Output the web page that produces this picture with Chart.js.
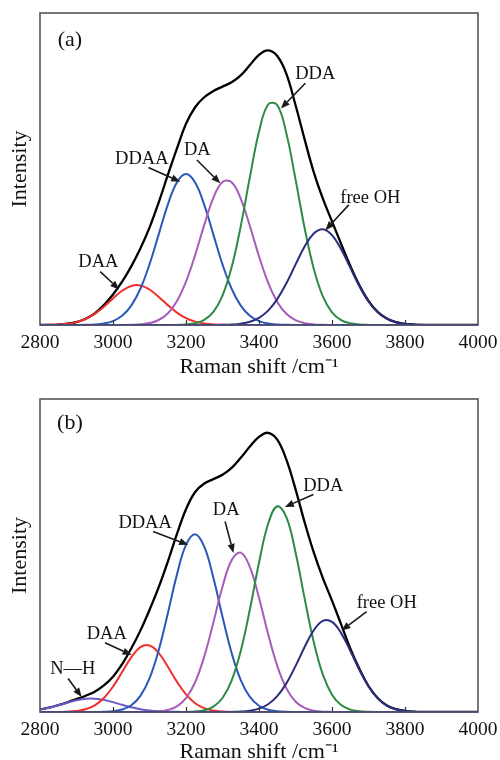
<!DOCTYPE html>
<html><head><meta charset="utf-8">
<script src="https://cdn.jsdelivr.net/npm/chart.js@4/dist/chart.umd.min.js"></script>
<style>
html,body{margin:0;padding:0;background:#fff;overflow:hidden;width:500px;height:760px;}
.box{position:absolute;left:0;width:500px;height:380px;}
#b1{top:0}#b2{top:380px}
canvas{display:block}
</style></head><body>
<div class="box" id="b1"><canvas id="c1" width="500" height="380"></canvas></div>
<div class="box" id="b2"><canvas id="c2" width="500" height="380"></canvas></div>
<script>
// Raman shift grid (cm^-1)
const shifts = [2800,2825,2850,2875,2900,2925,2950,2975,3000,3025,3050,3075,3100,3125,3150,3175,3200,3225,3250,3275,3300,3325,3350,3375,3400,3425,3450,3475,3500,3525,3550,3575,3600,3625,3650,3675,3700,3725,3750,3775,3800,3825,3850,3875,3900,3925,3950,3975,4000];
const xTicks = [2800,3000,3200,3400,3600,3800,4000];

// ---- panel (a) ----
const totalA  = [0.02,0.05,0.15,0.4,0.95,2.0,3.75,6.4,9.8,13.9,18.8,24.5,31.2,39.2,48.0,56.5,64.5,69.8,73.0,75.0,76.4,77.8,80.0,83.3,86.6,88.0,86.2,80.5,70.5,59.5,49.0,40.5,33.2,26.0,19.0,12.7,7.7,4.2,2.05,0.9,0.35,0.13,0.04,0.01,0,0,0,0,0];
const daaA    = [0.01,0.05,0.15,0.39,0.93,1.93,3.57,5.86,8.52,10.97,12.52,12.68,11.38,9.05,6.37,3.98,2.21,1.08,0.47,0.18,0.06,0.02,0,0,0,0,0,0,0,0,0,0,0,0,0,0,0,0,0,0,0,0,0,0,0,0,0,0,0];
const ddaaA   = [0,0,0,0,0.01,0.05,0.16,0.48,1.26,2.95,6.20,11.62,19.42,28.96,38.52,45.71,48.4,45.71,38.52,28.96,19.42,11.62,6.20,2.95,1.26,0.48,0.16,0.05,0.01,0,0,0,0,0,0,0,0,0,0,0,0,0,0,0,0,0,0,0,0];
const daA     = [0,0,0,0,0,0,0,0,0,0.02,0.06,0.21,0.61,1.60,3.70,7.61,13.87,22.41,32.09,40.75,45.86,45.75,40.45,31.71,22.03,13.57,7.41,3.59,1.54,0.58,0.20,0.06,0.02,0,0,0,0,0,0,0,0,0,0,0,0,0,0,0,0];
const ddaA    = [0,0,0,0,0,0,0,0,0,0,0,0,0,0,0,0.04,0.17,0.56,1.64,4.20,9.43,18.50,31.67,47.38,61.92,70.69,70.50,61.42,46.74,31.08,18.05,9.16,4.06,1.57,0.54,0.16,0.04,0,0,0,0,0,0,0,0,0,0,0,0];
const freeOhA = [0,0,0,0,0,0,0,0,0,0,0,0,0,0,0,0,0,0,0,0.01,0.05,0.15,0.41,1.03,2.30,4.61,8.29,13.37,19.36,25.15,29.33,30.70,28.82,24.29,18.38,12.47,7.60,4.15,2.04,0.90,0.35,0.13,0.04,0.01,0,0,0,0,0];

// ---- panel (b) ----
const totalB  = [0.8,1.4,2.2,3.1,4.1,5.2,6.5,8.5,11.3,15.3,20.3,26.0,32.6,39.8,48.0,56.8,64.8,70.3,73.0,74.4,75.8,78.0,81.2,84.8,87.9,89.2,87.0,80.6,71.2,60.6,51.0,42.8,35.6,28.0,20.3,13.8,8.3,4.5,2.1,0.9,0.35,0.11,0.03,0.01,0,0,0,0,0];
const nhB     = [0.79,1.37,2.13,2.98,3.74,4.22,4.26,3.87,3.15,2.30,1.51,0.89,0.47,0.22,0.09,0.04,0.01,0,0,0,0,0,0,0,0,0,0,0,0,0,0,0,0,0,0,0,0,0,0,0,0,0,0,0,0,0,0,0,0];
const daaB    = [0,0.01,0.03,0.10,0.31,0.87,2.11,4.45,8.10,12.78,17.48,20.70,21.24,18.89,14.55,9.70,5.61,2.81,1.22,0.46,0.15,0.04,0.01,0,0,0,0,0,0,0,0,0,0,0,0,0,0,0,0,0,0,0,0,0,0,0,0,0,0];
const ddaaB   = [0,0,0,0,0,0,0.02,0.07,0.25,0.78,2.15,5.15,10.77,19.68,31.42,43.81,53.37,56.8,52.80,42.87,30.42,18.85,10.21,4.83,1.99,0.72,0.23,0.06,0.02,0,0,0,0,0,0,0,0,0,0,0,0,0,0,0,0,0,0,0,0];
const daB     = [0,0,0,0,0,0,0,0,0,0,0,0.02,0.05,0.19,0.62,1.78,4.42,9.50,17.71,28.60,40.00,48.48,50.91,46.31,36.50,24.91,14.74,7.55,3.35,1.29,0.43,0.12,0.03,0.01,0,0,0,0,0,0,0,0,0,0,0,0,0,0,0];
const ddaB    = [0,0,0,0,0,0,0,0,0,0,0,0,0,0,0,0.01,0.04,0.17,0.58,1.73,4.48,10.03,19.47,32.73,47.66,60.13,65.73,62.24,51.06,36.29,22.35,11.92,5.51,2.21,0.77,0.23,0.06,0.02,0,0,0,0,0,0,0,0,0,0,0];
const freeOhB = [0,0,0,0,0,0,0,0,0,0,0,0,0,0,0,0,0,0,0,0,0.01,0.04,0.14,0.42,1.08,2.49,5.07,9.15,14.64,20.78,26.12,29.12,28.77,25.20,19.56,13.46,8.21,4.44,2.13,0.90,0.34,0.11,0.03,0.01,0,0,0,0,0];

// annotation texts and arrows (data coordinates)
const notesA = [
  {text:'(a)', x:2882, y:91.3, size:22},
  {text:'DDA', x:3554, y:80.4},
  {text:'DDAA', x:3079, y:53.1},
  {text:'DA', x:3231, y:55.9},
  {text:'free OH', x:3705, y:40.6},
  {text:'DAA', x:2960, y:20.0}
];
const arrowsA = [
  {from:[3527,77.5], to:[3460,69.4]},
  {from:[3097,50.5], to:[3184,45.9]},
  {from:[3230,52.9], to:[3294,45.4]},
  {from:[3646,38.5], to:[3582,30.4]},
  {from:[2965,17.1], to:[3017,11.4]}
];
const notesB = [
  {text:'(b)', x:2882, y:92.4, size:22},
  {text:'DDA', x:3576, y:72.3},
  {text:'DA', x:3310, y:64.6},
  {text:'DDAA', x:3088, y:60.4},
  {text:'free OH', x:3750, y:34.9},
  {text:'DAA', x:2983, y:24.9},
  {text:'N\u2014H', x:2890, y:13.8}
];
const arrowsB = [
  {from:[3549,69.5], to:[3471,65.5]},
  {from:[3307,60.9], to:[3330,50.8]},
  {from:[3110,57.7], to:[3206,53.4]},
  {from:[3695,32.1], to:[3626,26.0]},
  {from:[2978,22.1], to:[3051,18.2]},
  {from:[2877,10.7], to:[2914,4.8]}
];

const FONT = 'Liberation Serif';
const COLORS = {total:'#000000', nh:'#6a5ac8', daa:'#f1302c', ddaa:'#2b58b8', da:'#a65cb8', dda:'#2f8a43', free:'#2b2e7c'};

function pts(arr){ return shifts.map((x,i)=>({x:x, y:arr[i]})); }

const decor = {
  id:'decor',
  afterDatasetsDraw(chart, args, opts){
    const ctx = chart.ctx, a = chart.chartArea;
    const xs = chart.scales.x, ys = chart.scales.y;
    ctx.save();
    // inward ticks
    ctx.strokeStyle = '#333'; ctx.lineWidth = 1.2;
    xTicks.forEach(v=>{
      if (v===2800 || v===4000) return;
      const px = Math.round(xs.getPixelForValue(v))+0.5;
      ctx.beginPath(); ctx.moveTo(px, a.bottom); ctx.lineTo(px, a.bottom-5); ctx.stroke();
    });
    // frame
    ctx.lineWidth = 1.6;
    ctx.strokeStyle = '#555';
    ctx.strokeRect(a.left, a.top, a.right-a.left, a.bottom-a.top);
    ctx.strokeStyle = '#474a7c';
    ctx.beginPath(); ctx.moveTo(a.left, a.bottom); ctx.lineTo(a.right, a.bottom); ctx.stroke();
    // arrows
    ctx.strokeStyle = '#1a1a1a'; ctx.fillStyle = '#1a1a1a'; ctx.lineWidth = 1.6;
    opts.arrows.forEach(ar=>{
      const x1 = xs.getPixelForValue(ar.from[0]), y1 = ys.getPixelForValue(ar.from[1]);
      const x2 = xs.getPixelForValue(ar.to[0]), y2 = ys.getPixelForValue(ar.to[1]);
      const ang = Math.atan2(y2-y1, x2-x1), L = 9, W = 3.6;
      const bx = x2 - L*Math.cos(ang), by = y2 - L*Math.sin(ang);
      ctx.beginPath(); ctx.moveTo(x1,y1); ctx.lineTo(bx,by); ctx.stroke();
      ctx.beginPath();
      ctx.moveTo(x2,y2);
      ctx.lineTo(bx + W*Math.sin(ang), by - W*Math.cos(ang));
      ctx.lineTo(bx - W*Math.sin(ang), by + W*Math.cos(ang));
      ctx.closePath(); ctx.fill();
    });
    // texts
    ctx.fillStyle = '#111'; ctx.textAlign = 'center'; ctx.textBaseline = 'middle';
    opts.notes.forEach(n=>{
      ctx.font = (n.size||18.5) + 'px "' + FONT + '"';
      ctx.fillText(n.text, xs.getPixelForValue(n.x), ys.getPixelForValue(n.y));
    });
    ctx.restore();
  }
};

function makeChart(id, series, notes, arrows, padTop, axisH, titlePad){
  const ds = series.map(s=>({
    data: pts(s.data), borderColor: s.color, borderWidth: s.w || 2,
    pointRadius: 0, fill: false, tension: 0.4, order: s.order
  }));
  return new Chart(document.getElementById(id), {
    type: 'line',
    data: {datasets: ds},
    plugins: [decor],
    options: {
      responsive: false, animation: false, devicePixelRatio: 1,
      layout: {padding: {left: 0, right: 22, top: padTop, bottom: 0}},
      plugins: {legend: {display: false}, tooltip: {enabled: false}, decor: {notes: notes, arrows: arrows}},
      scales: {
        x: {
          type: 'linear', min: 2800, max: 4000,
          border: {display: false},
          grid: {display: false, drawTicks: false},
          afterBuildTicks(s){ s.ticks = xTicks.map(v=>({value:v})); },
          ticks: {autoSkip: false, maxRotation: 0, padding: 6, color: '#111', font: {family: FONT, size: 19.5},
                  callback: (v)=>String(v)},
          title: {display: true, text: 'Raman shift /cm\u207B\u00B9', color: '#111', font: {family: FONT, size: 22}, padding: {top: 0, bottom: titlePad}},
          afterFit(s){ s.height = axisH; s.paddingLeft = 0; s.paddingRight = 0; }
        },
        y: {
          min: 0, max: 100,
          border: {display: false},
          grid: {display: false, drawTicks: false},
          ticks: {display: false},
          title: {display: true, text: 'Intensity', color: '#111', font: {family: FONT, size: 22}, padding: {top: 7, bottom: 0}},
          afterFit(s){ s.width = 40; s.paddingTop = 0; s.paddingBottom = 0; }
        }
      }
    }
  });
}

makeChart('c1', [
  {data: totalA, color: COLORS.total, w: 2.3, order: 10},
  {data: daaA, color: COLORS.daa, order: 6},
  {data: ddaaA, color: COLORS.ddaa, order: 5},
  {data: daA, color: COLORS.da, order: 4},
  {data: ddaA, color: COLORS.dda, order: 3},
  {data: freeOhA, color: COLORS.free, order: 2}
], notesA, arrowsA, 13, 55, 0);

makeChart('c2', [
  {data: totalB, color: COLORS.total, w: 2.3, order: 10},
  {data: nhB, color: COLORS.nh, order: 7},
  {data: daaB, color: COLORS.daa, order: 6},
  {data: ddaaB, color: COLORS.ddaa, order: 5},
  {data: daB, color: COLORS.da, order: 4},
  {data: ddaB, color: COLORS.dda, order: 3},
  {data: freeOhB, color: COLORS.free, order: 2}
], notesB, arrowsB, 19, 48, -5);
</script>
</body></html>
